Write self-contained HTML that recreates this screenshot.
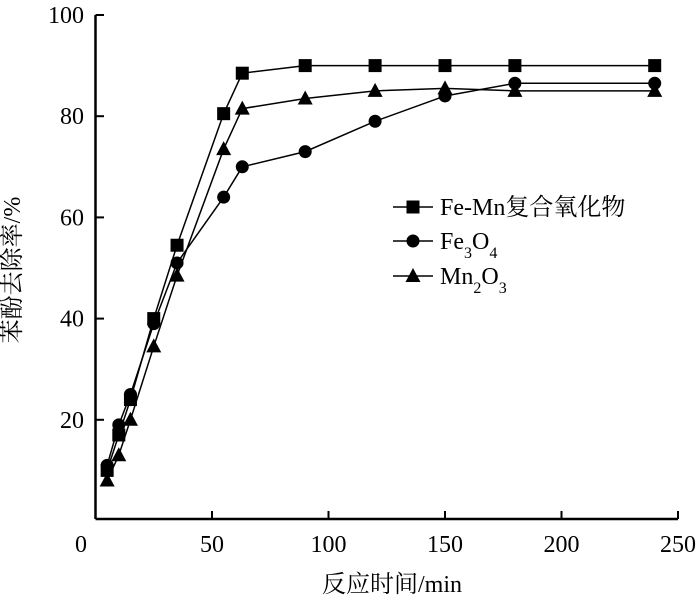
<!DOCTYPE html>
<html><head><meta charset="utf-8"><style>
body{margin:0;background:#fff}
text{font-family:"Liberation Serif","Noto Serif CJK SC",serif;fill:#000}
</style></head><body>
<svg width="700" height="601" viewBox="0 0 700 601" xmlns="http://www.w3.org/2000/svg">
<g id="axes"></g><g id="series"></g><g id="legend"></g>
<text x="20" y="270" font-size="24" text-anchor="middle" transform="rotate(-90 20 270)">苯酚去除率/%</text>
<text x="392" y="592" font-size="24" text-anchor="middle">反应时间/min</text>
</svg>
<script>
const xTicks=[0,50,100,150,200,250];
const yTicks=[20,40,60,80,100];
const times=[5,10,15,25,35,55,63,90,120,150,180,240];
const feMn=[10,17,24,40,54.5,80.5,88.5,90,90,90,90,90];
const fe3o4=[11,19,25,39,51,64,70,73,79,84,86.5,86.5];
const mn2o3=[8,13,20,34.5,48.5,73.5,81.5,83.5,85,85.5,85,85];
const NS="http://www.w3.org/2000/svg";
const X=v=>95.5+v*2.33, Y=v=>521-v*5.06;
function mk(t,a,p){const e=document.createElementNS(NS,t);for(const k in a)e.setAttribute(k,a[k]);(p||document.querySelector('svg')).appendChild(e);return e;}
const ax=document.getElementById('axes');
let e=mk('line',{x1:95.5,y1:519,x2:X(250),y2:519,stroke:'#000','stroke-width':2.5},ax);


e=mk('line',{x1:95.5,y1:519,x2:95.5,y2:Y(100),stroke:'#000','stroke-width':2.5},ax);


xTicks.forEach(v=>{
 if(v>0)mk('line',{x1:X(v),y1:519,x2:X(v),y2:511,stroke:'#000','stroke-width':2},ax);
 const t=mk('text',{x:v==0?81:X(v),y:552,'font-size':24,'text-anchor':'middle'},ax);t.textContent=v;
 
 
});
yTicks.forEach(v=>{
 mk('line',{x1:95.5,y1:Y(v),x2:104,y2:Y(v),stroke:'#000','stroke-width':2},ax);
 const t=mk('text',{x:84,y:Y(v)+8,'font-size':24,'text-anchor':'end'},ax);t.textContent=v;
 
 
});
function marker(type,x,y,g){
 if(type=='sq')return mk('rect',{x:x-6.5,y:y-6.5,width:13,height:13,fill:'#000'},g);
 if(type=='ci')return mk('circle',{cx:x,cy:y,r:6.5,fill:'#000'},g);
 return mk('polygon',{points:`${x},${y-8} ${x-7.5},${y+6} ${x+7.5},${y+6}`,fill:'#000'},g);
}
const sg=document.getElementById('series');
[[feMn,'sq','fe-mn'],[fe3o4,'ci','fe3o4'],[mn2o3,'tr','mn2o3']].forEach(([d,m,n])=>{
 const g=mk('g',{},sg);
 
 
 mk('polyline',{points:times.map((t,i)=>X(t)+','+Y(d[i])).join(' '),fill:'none',stroke:'#000','stroke-width':1.5},g);
 times.forEach((t,i)=>{const p=marker(m,X(t),Y(d[i]),g);
  
  });
});
const lg=document.getElementById('legend');
[['sq','Fe-Mn复合氧化物',207],['ci','Fe<tspan baseline-shift="sub" font-size="16">3</tspan>O<tspan baseline-shift="sub" font-size="16">4</tspan>',241],['tr','Mn<tspan baseline-shift="sub" font-size="16">2</tspan>O<tspan baseline-shift="sub" font-size="16">3</tspan>',276]].forEach(([m,l,y])=>{
 const g=mk('g',{},lg);
 
 
 mk('line',{x1:393,y1:y,x2:433,y2:y,stroke:'#000','stroke-width':1.5},g);
 marker(m,413,y,g);
 const t=mk('text',{x:440,y:y+8,'font-size':24},g);t.innerHTML=l;
});
</script>
</body></html>
